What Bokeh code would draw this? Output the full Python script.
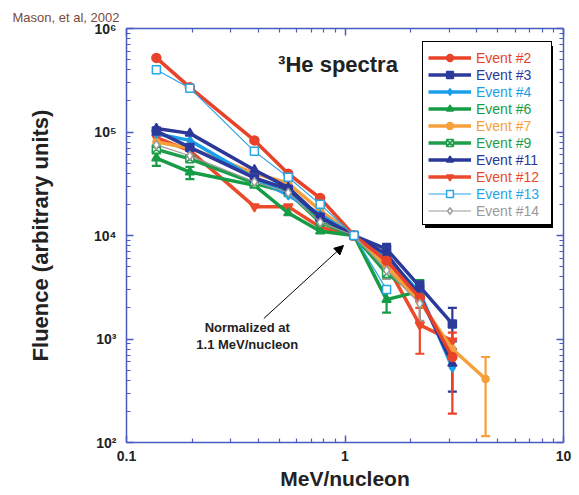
from bokeh.plotting import figure
from bokeh.models import (LogAxis, FixedTicker, Legend, LegendItem, Label, Arrow,
                          NormalHead, Whisker, TeeHead, ColumnDataSource,
                          CustomJSTickFormatter)
from bokeh.embed import file_html
from bokeh.resources import INLINE

# ---------------- data ----------------
energy = [0.137, 0.195, 0.385, 0.55, 0.77, 1.1, 1.55, 2.2, 3.1, 4.4]

ev2 = [5.2e5, 2.7e5, 8.3e4, 3.95e4, 2.3e4, 1.0e4, 5.7e3, 2.5e3, 6.7e2]
ev3 = [1.02e5, 7.1e4, 3.6e4, 2.8e4, 1.5e4, 1.0e4, 7.4e3, 3.2e3, 1.4e3]
ev4 = [9.6e4, 8.3e4, 3.6e4, 2.45e4, 1.6e4, 1.0e4, 6.2e3, 2.8e3, 5.3e2]
ev6 = [5.6e4, 4.1e4, 3.05e4, 1.65e4, 1.1e4, 1.0e4, 2.4e3, 2.9e3]
ev7 = [8.0e4, 7.0e4, 4.0e4, 3.2e4, 1.75e4, 1.0e4, 5.0e3, 2.3e3, 8.0e2, 4.1e2]
ev9 = [6.8e4, 5.5e4, 3.2e4, 2.6e4, 1.34e4, 1.0e4, 4.3e3, 2.6e3]
ev11 = [1.08e5, 9.7e4, 4.3e4, 2.9e4, 1.5e4, 1.0e4, 6.6e3, 2.6e3, 5.8e2]
ev12 = [8.8e4, 6.6e4, 1.9e4, 1.9e4, 1.2e4, 1.0e4, 5.2e3, 1.37e3, 9.6e2]
ev13 = [4.0e5, 2.65e5, 6.5e4, 3.66e4, 2.0e4, 1.0e4, 3.0e3]
ev14 = [7.5e4, 5.9e4, 3.3e4, 2.6e4, 1.34e4, 1.0e4, 4.6e3, 2.2e3]

# error bars: energies, lower, upper
err2_x, err2_lo, err2_hi = [3.1], [1.9e2], [1.15e3]
err3_x, err3_lo, err3_hi = [1.55, 2.2, 3.1], [6.7e3, 2.6e3, 9.5e2], [8.3e3, 3.6e3, 2.0e3]
err6_x, err6_lo, err6_hi = [0.137, 0.195, 1.55, 2.2], [4.7e4, 3.5e4, 1.8e3, 2.3e3], [6.5e4, 4.6e4, 3.0e3, 3.7e3]
err7_x, err7_lo, err7_hi = [4.4], [1.15e2], [6.7e2]
err9_x, err9_lo, err9_hi = [0.137], [6.2e4], [7.4e4]
err11_x, err11_lo, err11_hi = [3.1], [3.1e2], [8.0e2]
err12_x, err12_lo, err12_hi = [2.2], [7.2e2], [2.0e3]
err14_x, err14_lo, err14_hi = [1.55, 2.2], [3.8e3, 1.5e3], [5.5e3, 3.2e3]

names = ["Event #2", "Event #3", "Event #4", "Event #6", "Event #7",
         "Event #9", "Event #11", "Event #12", "Event #13", "Event #14"]

x_ticks = [0.1, 1, 10]
y_ticks = [1e2, 1e3, 1e4, 1e5, 1e6]

# ---------------- styles ----------------
AX = "#4a5cbf"
FONT = "Liberation Sans"

style = {
    "Event #2": dict(series=ev2, color="#e8432a", marker="circle", size=9, fill="#e8432a", lw=3.5,
                     err=(err2_x, err2_lo, err2_hi)),
    "Event #3": dict(series=ev3, color="#2c3a9c", marker="square", size=8, fill="#2c3a9c", lw=3.5,
                     err=(err3_x, err3_lo, err3_hi)),
    "Event #4": dict(series=ev4, color="#1aa0e8", marker="diamond", size=9, fill="#1aa0e8", lw=3.5,
                     err=None),
    "Event #6": dict(series=ev6, color="#159c45", marker="triangle", size=9, fill="#159c45", lw=3.5,
                     err=(err6_x, err6_lo, err6_hi)),
    "Event #7": dict(series=ev7, color="#f6a03c", marker="circle", size=7, fill="#f6a03c", lw=3.5,
                     err=(err7_x, err7_lo, err7_hi)),
    "Event #9": dict(series=ev9, color="#1e9e4a", marker="square_x", size=8, fill="white", lw=3.5,
                     err=(err9_x, err9_lo, err9_hi)),
    "Event #11": dict(series=ev11, color="#2b3898", marker="triangle", size=9, fill="#2b3898", lw=3.5,
                      err=(err11_x, err11_lo, err11_hi)),
    "Event #12": dict(series=ev12, color="#ec4a2c", marker="inverted_triangle", size=9, fill="#ec4a2c", lw=3.5,
                      err=(err12_x, err12_lo, err12_hi)),
    "Event #13": dict(series=ev13, color="#29a5e6", marker="square", size=8, fill="white", lw=1.2,
                      err=None),
    "Event #14": dict(series=ev14, color="#9a9a9a", marker="diamond", size=9, fill="white", lw=1.2,
                      err=(err14_x, err14_lo, err14_hi)),
}
draw_order = ["Event #12", "Event #6", "Event #9", "Event #7", "Event #4", "Event #3",
              "Event #11", "Event #2", "Event #14", "Event #13"]

# ---------------- figure ----------------
p = figure(width=579, height=495, x_axis_type="log", y_axis_type="log",
           x_range=(0.1, 10), y_range=(1e2, 1e6),
           output_backend="svg", toolbar_location=None,
           min_border_left=126, min_border_right=16, min_border_top=28, min_border_bottom=53)
p.grid.visible = False
p.outline_line_color = None
p.background_fill_color = "white"

# source note at the top-left, as the plot title
p.title.text = "Mason, et al, 2002"
p.title.align = "left"
p.title.offset = -114
p.title.standoff = 8
p.title.text_font = FONT
p.title.text_font_style = "normal"
p.title.text_font_size = "13px"
p.title.text_color = "#7a4a3c"

x_minor = [k * 10 ** e for e in (-1, 0) for k in range(2, 10)]
y_minor = [k * 10 ** e for e in (2, 3, 4, 5) for k in range(2, 10)]
xt = FixedTicker(ticks=x_ticks, minor_ticks=x_minor)
yt = FixedTicker(ticks=y_ticks, minor_ticks=y_minor)

xfmt = CustomJSTickFormatter(code="return String(Math.round(tick*10)/10);")
yfmt = CustomJSTickFormatter(code="""
const e = Math.round(Math.log10(tick));
const sup = {2:'\u00b2',3:'\u00b3',4:'\u2074',5:'\u2075',6:'\u2076'};
return '10' + sup[e];
""")


def style_axis(ax):
    ax.axis_line_color = AX
    ax.axis_line_width = 1.5
    ax.major_tick_line_color = AX
    ax.minor_tick_line_color = AX
    ax.major_tick_line_width = 1.5
    ax.minor_tick_line_width = 1.2
    ax.major_tick_in = 7
    ax.major_tick_out = 0
    ax.minor_tick_in = 4
    ax.minor_tick_out = 0


xa = p.xaxis[0]
xa.ticker = xt
xa.formatter = xfmt
style_axis(xa)
xa.major_label_text_font = FONT
xa.major_label_text_font_style = "bold"
xa.major_label_text_font_size = "14px"
xa.major_label_text_color = "#222222"
xa.major_label_standoff = 8
xa.axis_label = "MeV/nucleon"
xa.axis_label_text_font = FONT
xa.axis_label_text_font_style = "bold"
xa.axis_label_text_font_size = "21px"
xa.axis_label_text_color = "#222222"
xa.axis_label_standoff = 3

ya = p.yaxis[0]
ya.ticker = yt
ya.formatter = yfmt
style_axis(ya)
ya.major_label_text_font = FONT
ya.major_label_text_font_style = "bold"
ya.major_label_text_font_size = "14px"
ya.major_label_text_color = "#222222"
ya.major_label_standoff = 10
ya.axis_label = "Fluence (arbitrary units)"
ya.axis_label_text_font = FONT
ya.axis_label_text_font_style = "bold"
ya.axis_label_text_font_size = "22px"
ya.axis_label_text_color = "#222222"
ya.axis_label_standoff = 38

for loc, tk in (("above", xt), ("right", yt)):
    ax = LogAxis(ticker=tk, major_label_text_font_size="0px", major_label_standoff=0,
                 major_label_text_alpha=0)
    style_axis(ax)
    p.add_layout(ax, loc)

# ---------------- series ----------------
renderers = {}
for name in draw_order:
    s = style[name]
    ys = s["series"]
    xs = energy[:len(ys)]
    c = s["color"]
    if s["err"] is not None:
        ex, lo, hi = s["err"]
        src = ColumnDataSource(dict(base=ex, lower=lo, upper=hi))
        w = Whisker(source=src, base="base", lower="lower", upper="upper", dimension="height",
                    line_color=c, line_width=2.2,
                    upper_head=TeeHead(size=9, line_color=c, line_width=2.2),
                    lower_head=TeeHead(size=9, line_color=c, line_width=2.2))
        p.add_layout(w)
    lr = p.line(xs, ys, line_color=c, line_width=s["lw"])
    sr = p.scatter(xs, ys, marker=s["marker"], size=s["size"], fill_color=s["fill"],
                   line_color=c, line_width=1.5)
    renderers[name] = [lr, sr]

# ---------------- legend (box + shadow + coloured entries) ----------------
dummy = p.line([0.1, 0.1], [1e2, 1e2], line_alpha=0)
BOX_X, BOX_Y = 296, 217   # bottom-left of legend box, relative to frame
ITEM_H, PAD = 17, 6


def box_legend(loc, bg, border_alpha):
    return Legend(items=[LegendItem(label=" ", renderers=[dummy]) for _ in names],
                  location=loc, orientation="vertical", glyph_width=43, glyph_height=ITEM_H,
                  label_height=ITEM_H, label_width=68, label_standoff=5, spacing=0,
                  padding=PAD, margin=0, label_text_font_size="14px", label_text_font=FONT,
                  label_text_alpha=0, background_fill_color=bg, background_fill_alpha=1,
                  border_line_color="black", border_line_width=1.5,
                  border_line_alpha=border_alpha)


p.add_layout(box_legend((BOX_X + 3, BOX_Y - 3), "black", 0))
p.add_layout(box_legend((BOX_X, BOX_Y), "white", 1))

for i, name in enumerate(names):
    c = style[name]["color"]
    lg = Legend(items=[LegendItem(label=name, renderers=renderers[name])],
                location=(BOX_X + PAD, BOX_Y + PAD + ITEM_H * (len(names) - 1 - i)),
                glyph_width=43, glyph_height=ITEM_H, label_height=ITEM_H, label_standoff=5,
                spacing=0, padding=0, margin=0, label_text_font_size="14px",
                label_text_font=FONT, label_text_color=c,
                background_fill_alpha=0, border_line_alpha=0)
    p.add_layout(lg)

# ---------------- annotations ----------------
p.add_layout(Label(x=0.494, y=4.5e5, text="\u00b3He spectra", text_font=FONT,
                   text_font_style="bold", text_font_size="22px", text_color="#222222",
                   text_baseline="alphabetic"))
p.add_layout(Label(x=0.357, y=1290, text="Normalized at", text_font=FONT,
                   text_font_style="bold", text_font_size="13px", text_color="#222222",
                   text_align="center", text_baseline="middle"))
p.add_layout(Label(x=0.357, y=885, text="1.1 MeV/nucleon", text_font=FONT,
                   text_font_style="bold", text_font_size="13px", text_color="#222222",
                   text_align="center", text_baseline="middle"))
p.add_layout(Arrow(x_start=0.425, y_start=1578, x_end=0.984, y_end=8000,
                   line_color="black", line_width=1,
                   end=NormalHead(size=9, fill_color="black", line_color="black")))

open("out.html", "w").write(file_html(p, INLINE))
